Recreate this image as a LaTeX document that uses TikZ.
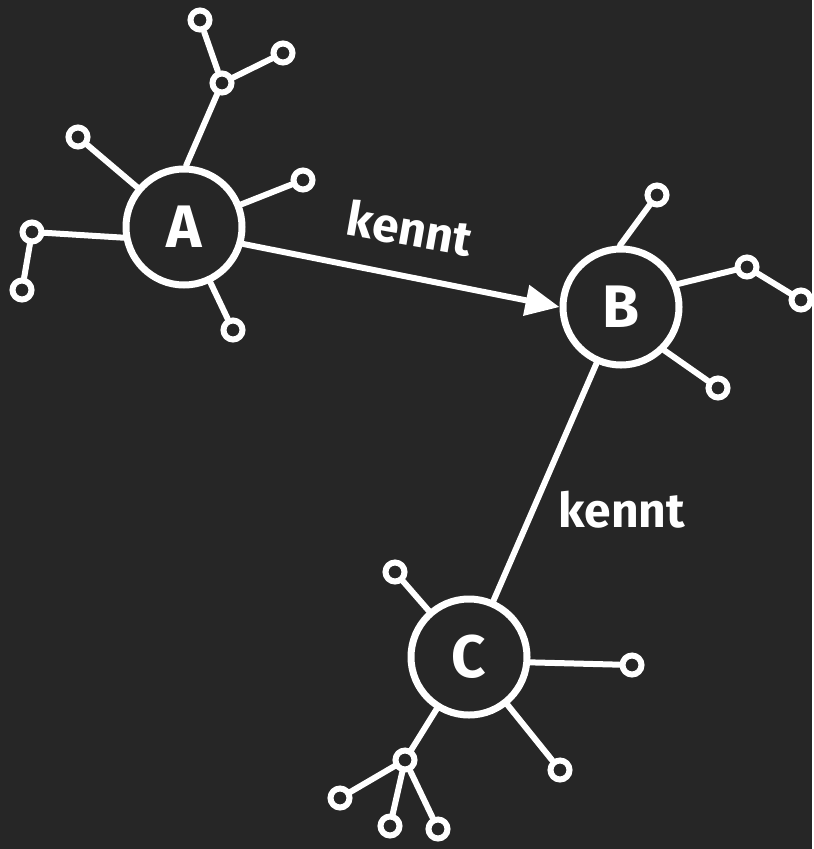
\documentclass[tikz,border=0pt]{standalone}
\usepackage{fontspec}
\setmainfont{Fira Sans}
\usetikzlibrary{arrows.meta}
\definecolor{board}{HTML}{262626}

\begin{document}
\begin{tikzpicture}[x=1pt, y=-1pt, white, line width=6pt, line cap=round,
  person/.style={draw, circle, minimum size=116pt, inner sep=0pt, line width=7pt,
    font=\fontsize{60}{60}\selectfont\bfseries},
  leaf/.style={draw, circle, minimum size=19pt, inner sep=0pt, line width=6pt},
  rel/.style={font=\fontsize{48}{48}\selectfont\bfseries}]
  \fill[board] (0,0) rectangle (812,849);

  % the three people
  \node[person] (A) at (184,227) {A};
  \node[person] (B) at (621,307) {B};
  \node[person] (C) at (469,657) {C};

  % leaves around A
  \node[leaf] (a1) at (200,20) {};
  \node[leaf] (a2) at (222,83) {};
  \node[leaf] (a3) at (283,53) {};
  \node[leaf] (a4) at (78,137) {};
  \node[leaf] (a5) at (303,180) {};
  \node[leaf] (a6) at (32,232) {};
  \node[leaf] (a7) at (22,290) {};
  \node[leaf] (a8) at (233,330) {};
  \draw (A.88) -- (a2);
  \draw (a2) -- (a1);
  \draw (a2) -- (a3);
  \draw (A) -- (a4);
  \draw (A) -- (a5);
  \draw (A.190) -- (a6);
  \draw (a6) -- (a7);
  \draw (A) -- (a8);

  % leaves around B
  \node[leaf] (b1) at (657,195) {};
  \node[leaf] (b2) at (747,267) {};
  \node[leaf] (b3) at (801,300) {};
  \node[leaf] (b4) at (718,388) {};
  \draw (B.91) -- (b1);
  \draw (B.22) -- (b2);
  \draw (b2) -- (b3);
  \draw (B.-45) -- (b4);

  % leaves around C
  \node[leaf] (c1) at (395,572) {};
  \node[leaf] (c2) at (632,665) {};
  \node[leaf] (c3) at (560,770) {};
  \node[leaf] (c4) at (405,760) {};
  \node[leaf] (c5) at (340,798) {};
  \node[leaf] (c6) at (390,826) {};
  \node[leaf] (c7) at (438,829) {};
  \draw (C) -- (c1);
  \draw (C.-5) -- (c2);
  \draw (C) -- (c3);
  \draw (C) -- (c4);
  \draw (c4) -- (c5);
  \draw (c4) -- (c6);
  \draw (c4) -- (c7);

  % relations
  \draw[-{Triangle[length=34pt,width=30pt]}] (A.-16) -- (B.west);
  \node[rel, rotate=-10] (k1) at (410,228) {kennt};
  \draw (B) -- (C);
  \node[rel] (k2) at (622,510) {kennt};
\end{tikzpicture}
\end{document}
